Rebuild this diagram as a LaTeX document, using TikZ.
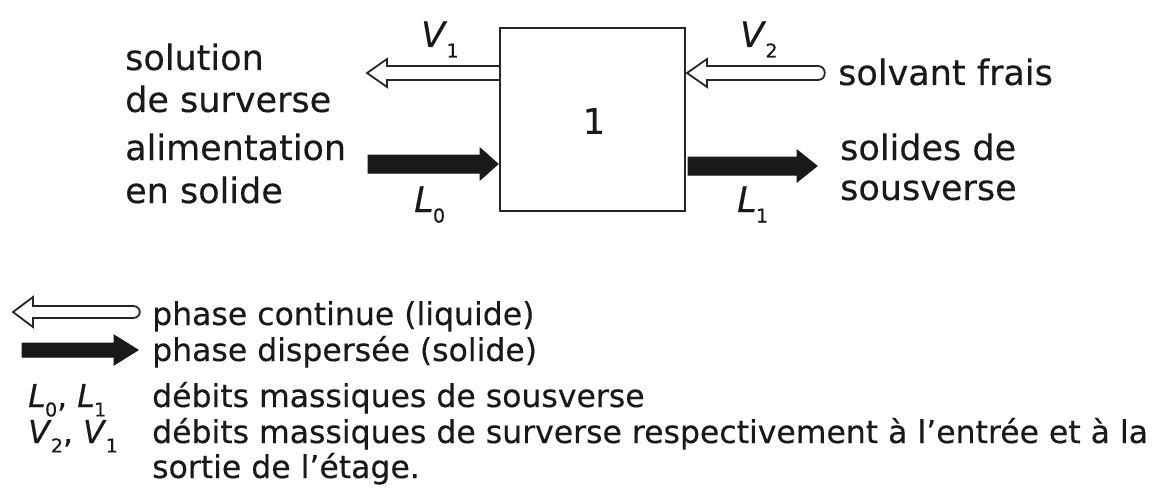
\documentclass[tikz,border=0pt]{standalone}
\usepackage{fontspec}
\setmainfont{DejaVu Sans}[FakeBold=0.35]
\usetikzlibrary{calc}

% flow arrow drawn as an outline: style, tail, tip, shaft half-width,
% head half-width, head length, tail bulge (0pt = square tail)
\newcommand\flowarrow[7]{%
  \path[#1] let \p1=(#2), \p2=(#3), \n1={sign(\x2-\x1)} in
    ({\x1},{\y1+#4}) -- ({\x2-\n1*#6},{\y1+#4}) -- ({\x2-\n1*#6},{\y1+#5})
    -- ({\x2},{\y1}) -- ({\x2-\n1*#6},{\y1-#5}) -- ({\x2-\n1*#6},{\y1-#4})
    -- ({\x1},{\y1-#4})
    .. controls ({\x1-\n1*#7},{\y1-#4}) and ({\x1-\n1*#7},{\y1+#4}) .. ({\x1},{\y1+#4})
    -- cycle;}

% flow symbol with a subscript
\newcommand\flowsym[2]{\textit{#1}\kern-0.02em\raisebox{-0.3em}{\fontsize{19}{19}\selectfont #2}}

\tikzset{
  big/.style={font=\fontsize{35}{41}\selectfont},
  small/.style={font=\fontsize{31.5}{37}\selectfont},
  txt/.style={inner sep=0pt, anchor=base west, text=black!90},
  liquid/.style={draw=black!85, line width=1.8pt, fill=white, line join=miter},
  solid/.style={draw=black!90, fill=black!90, line width=1pt, line join=miter},
  stagebox/.style={draw=black!85, line width=2pt, minimum width=185pt, minimum height=183pt, inner sep=0pt}
}

\begin{document}
\begin{tikzpicture}[x=1pt, y=-1pt]
\useasboundingbox (0,0) rectangle (1166,492);

% extraction stage
\node[stagebox] (stage) at (592.5,119.5) {};
\node[big, inner sep=0pt, text=black!90] (num) at (594,121) {1};

% stream end points
\coordinate (v1tail) at (500,73);
\coordinate (v1tip)  at (367,73);
\coordinate (v2tail) at (818,73);
\coordinate (v2tip)  at (687,73);
\coordinate (l0tail) at (368,164);
\coordinate (l0tip)  at (498,164);
\coordinate (l1tail) at (688,166);
\coordinate (l1tip)  at (817,166);

\flowarrow{liquid}{v1tail}{v1tip}{7pt}{14pt}{20pt}{0pt}
\flowarrow{liquid}{v2tail}{v2tip}{7pt}{14pt}{20pt}{9pt}
\flowarrow{solid}{l0tail}{l0tip}{9pt}{16pt}{18pt}{0pt}
\flowarrow{solid}{l1tail}{l1tip}{9pt}{16pt}{20pt}{0pt}

% flow labels
\node[big, txt] (V1) at (421,47) {\flowsym{V}{1}};
\node[big, txt] (V2) at (740,47) {\flowsym{V}{2}};
\node[big, txt] (L0) at (414,212) {\flowsym{L}{0}};
\node[big, txt] (L1) at (737,212) {\flowsym{L}{1}};

% stream descriptions
\node[big, txt] (sol1) at (125,70)  {solution};
\node[big, txt] (sol2) at (125,112) {de surverse};
\node[big, txt] (ali1) at (125,160) {alimentation};
\node[big, txt] (ali2) at (125,203) {en solide};
\node[big, txt] (fresh) at (838,85) {solvant frais};
\node[big, txt] (und1) at (840,160) {solides de};
\node[big, txt] (und2) at (840,200) {sousverse};

% legend
\coordinate (lgliqtail) at (133,312);
\coordinate (lgliqtip)  at (13,312);
\coordinate (lgsoltail) at (22,350);
\coordinate (lgsoltip)  at (138,350);
\flowarrow{liquid}{lgliqtail}{lgliqtip}{6pt}{15pt}{20pt}{9pt}
\flowarrow{solid}{lgsoltail}{lgsoltip}{7pt}{15pt}{24pt}{0pt}

\node[small, txt] (lg1) at (152,325) {phase continue (liquide)};
\node[small, txt] (lg2) at (152,361) {phase dispersée (solide)};
\node[small, txt] (lgL) at (28,407)  {\flowsym{L}{0}, \flowsym{L}{1}};
\node[small, txt] (lg3) at (152,407) {débits massiques de sousverse};
\node[small, txt] (lgV) at (28,443)  {\flowsym{V}{2}, \flowsym{V}{1}};
\node[small, txt] (lg4) at (152,443) {débits massiques de surverse respectivement à l'entrée et à la};
\node[small, txt] (lg5) at (152,478) {sortie de l'étage.};
\end{tikzpicture}
\end{document}
